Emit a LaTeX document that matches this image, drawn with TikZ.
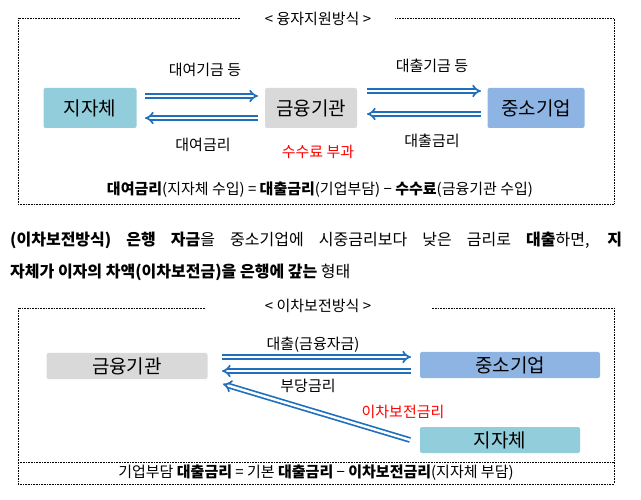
\documentclass[tikz,border=0pt]{standalone}
\usepackage{fontspec}
\setmainfont{Noto Sans CJK KR}
\usetikzlibrary{arrows.meta}
\definecolor{jblue}{HTML}{92CDDC}
\definecolor{jgray}{HTML}{D9D9D9}
\definecolor{sblue}{HTML}{8EB4E3}
\definecolor{arr}{HTML}{1F6FBF}
\tikzset{
  box/.style={rounded corners=2pt,inner sep=0pt,font=\fontsize{19}{21}\selectfont},
  harrow/.style={draw=arr,double=white,double distance=2.4pt,line width=1.7pt,-{Implies[length=6pt]}},
  lab/.style={font=\fontsize{15}{17}\selectfont},
  frame/.style={densely dotted,line width=0.6pt},
}
\begin{document}
\begin{tikzpicture}[x=1pt,y=-1pt]
\useasboundingbox (0,0) rectangle (641,500);
% top frame
\draw[frame] (240,18) -- (18,18) -- (18,204) -- (614,204) -- (614,18) -- (395,18);
\node[lab] (t1) at (318,19) {<\ 융자지원방식\ >};
\node[box,fill=jblue,minimum width=93pt,minimum height=40pt] (a1) at (90,108) {지자체};
\node[box,fill=jgray,minimum width=92pt,minimum height=40pt] (b1) at (311,108) {금융기관};
\node[box,fill=sblue,minimum width=97pt,minimum height=40pt] (c1) at (536,108) {중소기업};
\coordinate (a1r) at (145,96); \coordinate (b1l) at (258,96);
\coordinate (a1r2) at (145,118); \coordinate (b1l2) at (258,118);
\draw[harrow] (a1r) -- (b1l);
\draw[harrow] (b1l2) -- (a1r2);
\coordinate (b1r) at (367,91); \coordinate (c1l) at (481,91);
\coordinate (b1r2) at (367,114); \coordinate (c1l2) at (481,114);
\draw[harrow] (b1r) -- (c1l);
\draw[harrow] (c1l2) -- (b1r2);
\node[lab] (l1) at (205,70) {대여기금 등};
\node[lab] (l2) at (203,145) {대여금리};
\node[lab] (l3) at (432,66) {대출기금 등};
\node[lab] (l4) at (432,141) {대출금리};
\node[lab,text=red] (l5) at (318,152) {수수료 부과};
\node[lab] (f1) at (320,190) {\textbf{대여금리}(지자체 수입) = \textbf{대출금리}(기업부담) − \textbf{수수료}(금융기관 수입)};
% paragraph
\node[lab,font=\fontsize{16}{18}\selectfont,anchor=west,inner sep=0pt] (p1) at (10,240) {\makebox[612pt][s]{\textbf{(이차보전방식)} \textbf{은행} \textbf{자금}을 중소기업에 시중금리보다 낮은 금리로 \textbf{대출}하면, \textbf{지}}};
\node[lab,font=\fontsize{16}{18}\selectfont,anchor=west,inner sep=0pt] (p2) at (10,272) {\textbf{자체가 이자의 차액(이차보전금)을 은행에 갚는} 형태};
% bottom frame
\draw[frame] (205,308) -- (18,308) -- (18,484) -- (614,484) -- (614,308) -- (432,308);
\draw[frame] (18,462) -- (614,462);
\node[lab] (t2) at (318,306) {<\ 이차보전방식\ >};
\node[box,fill=jgray,minimum width=161pt,minimum height=26pt] (b2) at (127,366) {금융기관};
\node[box,fill=sblue,minimum width=180pt,minimum height=26pt] (c2) at (510,365) {중소기업};
\node[box,fill=jblue,minimum width=160pt,minimum height=26pt] (a2) at (500,440) {지자체};
\coordinate (b2r) at (222,357); \coordinate (c2l) at (411,357);
\coordinate (b2r2) at (222,371); \coordinate (c2l2) at (411,371);
\draw[harrow] (b2r) -- (c2l);
\draw[harrow] (c2l2) -- (b2r2);
\coordinate (a2l) at (410,440); \coordinate (b2d) at (223,384);
\draw[harrow] (a2l) -- (b2d);
\node[lab] (m1) at (313,345) {대출(금융자금)};
\node[lab] (m2) at (308,386) {부당금리};
\node[lab,text=red] (m3) at (403,412) {이차보전금리};
\node[lab] (f2) at (316,473) {기업부담 \textbf{대출금리} = 기본 \textbf{대출금리} − \textbf{이차보전금리}(지자체 부담)};
\end{tikzpicture}
\end{document}
